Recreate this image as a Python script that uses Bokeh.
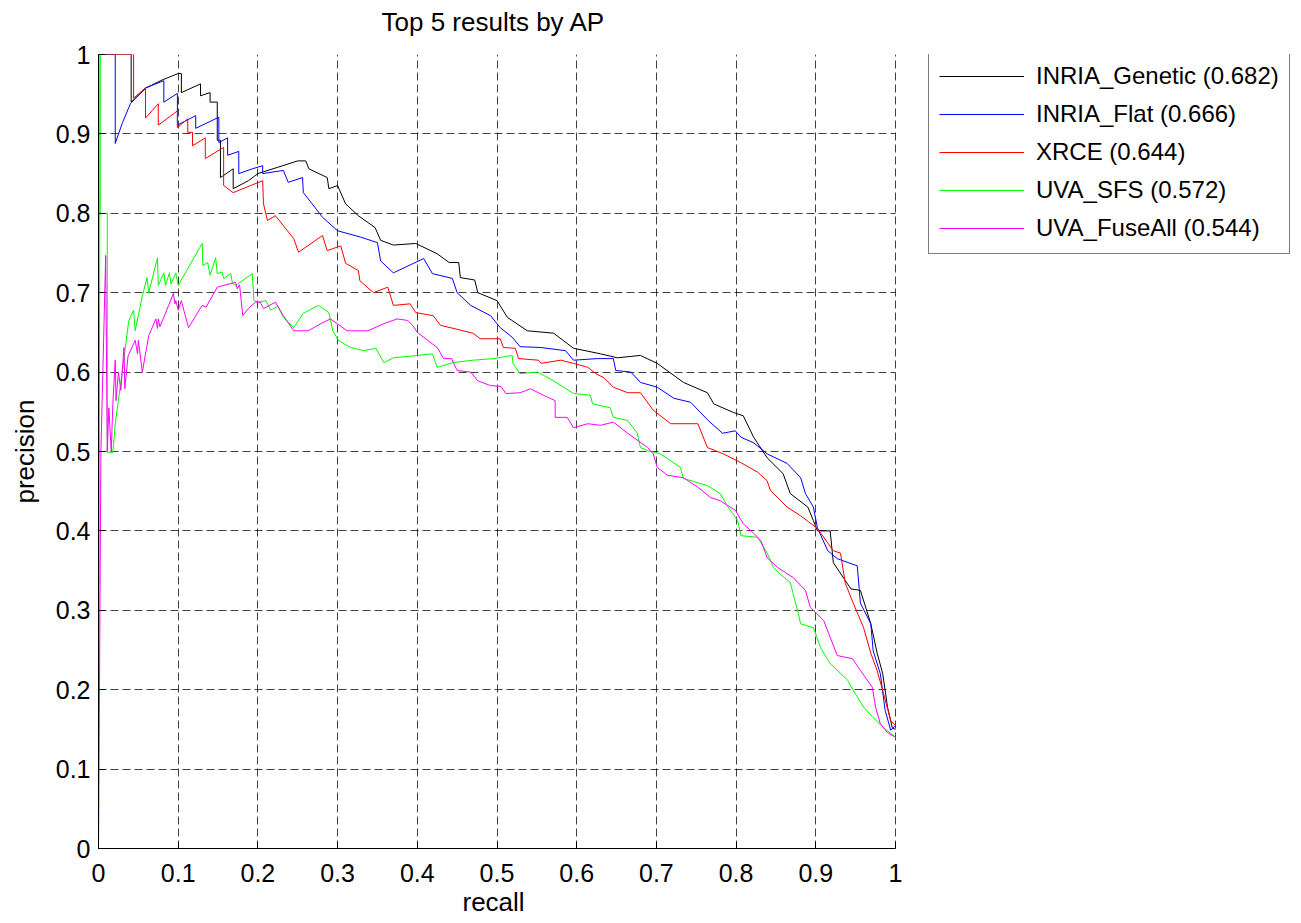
from bokeh.plotting import figure
from bokeh.models import Legend, LegendItem, FixedTicker, Range1d, Title
from bokeh.embed import file_html
from bokeh.resources import INLINE

# ---------------- data ----------------
tick_values = [0, 0.1, 0.2, 0.3, 0.4, 0.5, 0.6, 0.7, 0.8, 0.9, 1.0]
tick_labels = ["0", "0.1", "0.2", "0.3", "0.4", "0.5", "0.6", "0.7", "0.8", "0.9", "1"]

series_names = ["INRIA_Genetic (0.682)", "INRIA_Flat (0.666)", "XRCE (0.644)",
                "UVA_SFS (0.572)", "UVA_FuseAll (0.544)"]
series_colors = ["#000000", "#0000FF", "#FF0000", "#00FF00", "#FF00FF"]

genetic_recall = [0, 0, 0.041, 0.041, 0.06, 0.08, 0.1, 0.104, 0.104, 0.128, 0.128, 0.14, 0.14, 0.149,
                  0.149, 0.153, 0.153, 0.169, 0.169, 0.188, 0.2, 0.225, 0.25, 0.26, 0.264, 0.287, 0.289,
                  0.3, 0.31, 0.326, 0.347, 0.354, 0.37, 0.398, 0.425, 0.44, 0.452, 0.454, 0.472, 0.476,
                  0.5, 0.513, 0.538, 0.571, 0.596, 0.63, 0.651, 0.68, 0.701, 0.734, 0.764, 0.772, 0.797,
                  0.809, 0.822, 0.839, 0.859, 0.868, 0.89, 0.897, 0.902, 0.918, 0.922, 0.944, 0.956,
                  0.969, 0.977, 0.984, 0.99, 0.996, 1.0]
genetic_precision = [0, 1, 1, 0.94, 0.958, 0.968, 0.976, 0.976, 0.952, 0.963, 0.948, 0.952, 0.94, 0.94,
                     0.892, 0.892, 0.845, 0.856, 0.831, 0.841, 0.85, 0.858, 0.866, 0.866, 0.856, 0.845,
                     0.831, 0.835, 0.812, 0.797, 0.782, 0.766, 0.76, 0.762, 0.749, 0.738, 0.738, 0.719,
                     0.716, 0.70, 0.69, 0.669, 0.652, 0.649, 0.63, 0.623, 0.618, 0.621, 0.611, 0.587,
                     0.574, 0.56, 0.549, 0.545, 0.518, 0.492, 0.472, 0.447, 0.43, 0.413, 0.40, 0.40,
                     0.36, 0.327, 0.325, 0.283, 0.246, 0.22, 0.178, 0.152, 0.15]

flat_recall = [0, 0, 0.021, 0.021, 0.03, 0.04, 0.059, 0.082, 0.082, 0.099, 0.099, 0.122, 0.122, 0.151,
               0.151, 0.162, 0.162, 0.176, 0.176, 0.193, 0.206, 0.206, 0.232, 0.238, 0.256, 0.257, 0.268,
               0.281, 0.3, 0.329, 0.35, 0.354, 0.37, 0.408, 0.419, 0.444, 0.45, 0.467, 0.492, 0.504,
               0.519, 0.529, 0.555, 0.586, 0.596, 0.626, 0.646, 0.649, 0.668, 0.68, 0.701, 0.722, 0.743,
               0.765, 0.783, 0.799, 0.806, 0.822, 0.839, 0.864, 0.881, 0.887, 0.897, 0.902, 0.915,
               0.927, 0.952, 0.956, 0.969, 0.972, 0.981, 0.987, 0.994, 1.0]
flat_precision = [0, 1, 1, 0.888, 0.914, 0.938, 0.958, 0.967, 0.94, 0.951, 0.911, 0.923, 0.907, 0.921,
                  0.889, 0.895, 0.873, 0.878, 0.85, 0.856, 0.86, 0.85, 0.854, 0.839, 0.845, 0.826, 0.812,
                  0.795, 0.778, 0.77, 0.763, 0.74, 0.725, 0.743, 0.724, 0.718, 0.70, 0.684, 0.671, 0.656,
                  0.644, 0.632, 0.631, 0.627, 0.615, 0.617, 0.617, 0.602, 0.60, 0.587, 0.581, 0.567,
                  0.562, 0.539, 0.523, 0.526, 0.518, 0.511, 0.497, 0.485, 0.467, 0.447, 0.43, 0.404,
                  0.375, 0.365, 0.356, 0.309, 0.283, 0.249, 0.22, 0.174, 0.149, 0.155]

xrce_recall = [0, 0, 0.044, 0.044, 0.059, 0.059, 0.075, 0.075, 0.099, 0.099, 0.112, 0.112, 0.118, 0.118,
               0.134, 0.134, 0.157, 0.157, 0.169, 0.191, 0.206, 0.207, 0.212, 0.222, 0.245, 0.251, 0.281,
               0.287, 0.304, 0.31, 0.326, 0.328, 0.345, 0.363, 0.37, 0.391, 0.398, 0.42, 0.429, 0.47,
               0.479, 0.504, 0.508, 0.523, 0.527, 0.552, 0.555, 0.58, 0.596, 0.614, 0.624, 0.634, 0.646,
               0.664, 0.68, 0.696, 0.718, 0.752, 0.764, 0.784, 0.806, 0.827, 0.839, 0.843, 0.864, 0.881,
               0.902, 0.922, 0.931, 0.937, 0.947, 0.96, 0.969, 0.977, 0.985, 0.994, 1.0]
xrce_precision = [0, 1, 1, 0.945, 0.958, 0.92, 0.938, 0.911, 0.929, 0.908, 0.919, 0.902, 0.902, 0.885,
                  0.895, 0.869, 0.883, 0.835, 0.826, 0.835, 0.841, 0.812, 0.791, 0.797, 0.768, 0.751,
                  0.772, 0.753, 0.759, 0.737, 0.728, 0.715, 0.70, 0.707, 0.684, 0.686, 0.675, 0.671,
                  0.659, 0.649, 0.642, 0.642, 0.631, 0.63, 0.617, 0.615, 0.611, 0.615, 0.611, 0.606,
                  0.598, 0.593, 0.581, 0.574, 0.574, 0.552, 0.535, 0.535, 0.505, 0.497, 0.486, 0.474,
                  0.463, 0.451, 0.43, 0.419, 0.403, 0.375, 0.372, 0.334, 0.309, 0.278, 0.246, 0.224,
                  0.195, 0.161, 0.155]

sfs_recall = [0, 0.002, 0.002, 0.011, 0.011, 0.018, 0.021, 0.03, 0.038, 0.044, 0.046, 0.055, 0.061, 0.063,
              0.074, 0.075, 0.082, 0.084, 0.089, 0.091, 0.097, 0.1, 0.13, 0.131, 0.137, 0.14, 0.147, 0.149,
              0.155, 0.157, 0.166, 0.168, 0.172, 0.193, 0.195, 0.2, 0.21, 0.216, 0.225, 0.232, 0.245,
              0.257, 0.276, 0.289, 0.294, 0.301, 0.316, 0.333, 0.348, 0.358, 0.37, 0.4, 0.419, 0.425,
              0.445, 0.47, 0.496, 0.519, 0.52, 0.529, 0.551, 0.571, 0.596, 0.617, 0.62, 0.642, 0.646,
              0.664, 0.676, 0.68, 0.689, 0.705, 0.73, 0.734, 0.764, 0.78, 0.79, 0.802, 0.806, 0.827,
              0.839, 0.847, 0.856, 0.868, 0.878, 0.881, 0.897, 0.906, 0.918, 0.94, 0.947, 0.96, 0.972,
              0.985, 0.994, 1.0]
sfs_precision = [0, 1, 0.8, 0.8, 0.499, 0.499, 0.535, 0.602, 0.665, 0.678, 0.652, 0.696, 0.719, 0.70,
                 0.744, 0.709, 0.725, 0.709, 0.725, 0.711, 0.725, 0.709, 0.762, 0.734, 0.738, 0.722,
                 0.744, 0.724, 0.726, 0.718, 0.724, 0.712, 0.709, 0.724, 0.69, 0.688, 0.69, 0.678, 0.683,
                 0.669, 0.656, 0.674, 0.684, 0.675, 0.652, 0.64, 0.631, 0.627, 0.63, 0.612, 0.618, 0.621,
                 0.623, 0.606, 0.612, 0.615, 0.617, 0.621, 0.611, 0.598, 0.60, 0.589, 0.573, 0.571, 0.56,
                 0.555, 0.543, 0.539, 0.523, 0.505, 0.501, 0.497, 0.48, 0.466, 0.457, 0.447, 0.43, 0.413,
                 0.394, 0.392, 0.372, 0.354, 0.345, 0.335, 0.296, 0.283, 0.278, 0.253, 0.233, 0.212,
                 0.199, 0.178, 0.165, 0.152, 0.145, 0.14]

fuse_recall = [0, 0.003, 0.009, 0.011, 0.013, 0.016, 0.018, 0.021, 0.022, 0.025, 0.028, 0.032, 0.033,
               0.037, 0.046, 0.049, 0.05, 0.055, 0.063, 0.072, 0.074, 0.075, 0.077, 0.088, 0.094, 0.096,
               0.097, 0.1, 0.104, 0.107, 0.113, 0.13, 0.135, 0.149, 0.16, 0.172, 0.174, 0.177, 0.181,
               0.188, 0.197, 0.203, 0.207, 0.222, 0.232, 0.245, 0.263, 0.279, 0.291, 0.312, 0.338, 0.358,
               0.375, 0.388, 0.394, 0.4, 0.413, 0.425, 0.433, 0.443, 0.45, 0.467, 0.476, 0.492, 0.505,
               0.511, 0.529, 0.542, 0.558, 0.573, 0.573, 0.588, 0.596, 0.614, 0.63, 0.646, 0.664, 0.689,
               0.696, 0.701, 0.714, 0.734, 0.752, 0.768, 0.78, 0.799, 0.809, 0.822, 0.831, 0.839, 0.852,
               0.872, 0.887, 0.893, 0.91, 0.918, 0.927, 0.946, 0.959, 0.971, 0.975, 0.981, 0.99, 1.0]
fuse_precision = [0, 0.5, 0.747, 0.5, 0.555, 0.5, 0.56, 0.615, 0.564, 0.60, 0.577, 0.631, 0.579, 0.62,
                  0.64, 0.623, 0.64, 0.60, 0.646, 0.667, 0.655, 0.667, 0.657, 0.684, 0.699, 0.686, 0.69,
                  0.678, 0.69, 0.678, 0.656, 0.684, 0.682, 0.707, 0.71, 0.713, 0.705, 0.71, 0.671, 0.68,
                  0.688, 0.688, 0.68, 0.688, 0.671, 0.652, 0.652, 0.661, 0.667, 0.652, 0.652, 0.661,
                  0.667, 0.665, 0.659, 0.65, 0.64, 0.631, 0.617, 0.617, 0.602, 0.60, 0.589, 0.583, 0.582,
                  0.573, 0.574, 0.579, 0.571, 0.564, 0.543, 0.543, 0.53, 0.535, 0.533, 0.537, 0.523,
                  0.505, 0.497, 0.48, 0.47, 0.467, 0.455, 0.442, 0.438, 0.426, 0.409, 0.397, 0.388,
                  0.366, 0.354, 0.341, 0.325, 0.304, 0.287, 0.266, 0.243, 0.239, 0.22, 0.203, 0.178,
                  0.157, 0.146, 0.14]

all_recall = [genetic_recall, flat_recall, xrce_recall, sfs_recall, fuse_recall]
all_precision = [genetic_precision, flat_precision, xrce_precision, sfs_precision, fuse_precision]

# ---------------- figure ----------------
FONT = "Liberation Sans"
W, H = 1301, 923
LEFT, RIGHT_AT_ONE, TOP, BOTTOM = 98, 895, 54, 75
x_end = (W - LEFT) / (RIGHT_AT_ONE - LEFT)   # frame extends right so the legend can live inside it

p = figure(width=W, height=H, output_backend="svg", toolbar_location=None,
           x_range=Range1d(0, x_end), y_range=Range1d(0, 1),
           min_border_left=LEFT, min_border_right=0, min_border_top=TOP, min_border_bottom=BOTTOM,
           title="Top 5 results by AP")
p.background_fill_color = "white"
p.border_fill_color = "white"
p.outline_line_color = None

p.title.align = "left"
p.title.offset = 283
p.title.text_font = FONT
p.title.text_font_size = "26px"
p.title.text_font_style = "normal"
p.title.text_color = "black"
p.title.standoff = 8

# small empty spacer between the title and the frame
spacer = Title(text=" ", text_font_size="2px", standoff=10)
p.add_layout(spacer, "above")

for ax in (p.xaxis[0], p.yaxis[0]):
    ax.ticker = FixedTicker(ticks=tick_values)
    ax.major_label_overrides = {v: l for v, l in zip(tick_values, tick_labels)}
    ax.major_label_text_font = FONT
    ax.major_label_text_font_size = "25px"
    ax.major_label_text_color = "black"
    ax.axis_label_text_font = FONT
    ax.axis_label_text_font_size = "26px"
    ax.axis_label_text_font_style = "normal"
    ax.axis_label_text_color = "black"
    ax.axis_line_color = "black"
    ax.axis_line_width = 1
    ax.major_tick_line_color = "black"
    ax.major_tick_in = 7
    ax.major_tick_out = 0
    ax.minor_tick_line_color = None
    ax.bounds = (0, 1)

p.yaxis[0].axis_label = "precision"
p.xaxis[0].major_label_standoff = 15
p.yaxis[0].major_label_standoff = 8
p.yaxis[0].axis_label_standoff = 13
p.yaxis[0].major_label_orientation = "horizontal"

# x axis label centred under the 0..1 part of the axis
xlabel = Title(text="recall", align="left", offset=364, vertical_align="top",
               text_font=FONT, text_font_size="26px", text_font_style="normal",
               text_color="black", standoff=4)
p.add_layout(xlabel, "below")

for g in (p.xgrid[0], p.ygrid[0]):
    g.ticker = FixedTicker(ticks=tick_values)
    g.grid_line_color = "#000000"
    g.grid_line_alpha = 0.75
    g.grid_line_dash = "8 4"
    g.grid_line_width = 1
    g.bounds = (0, 1)
    g.cross_bounds = (0, 1)

items = []
for name, color, rx, py in zip(series_names, series_colors, all_recall, all_precision):
    r = p.line(rx, py, line_color=color, line_width=1)
    items.append(LegendItem(label=name, renderers=[r]))

legend = Legend(items=items, location=(830, 594))
legend.label_text_font = FONT
legend.label_text_font_size = "24px"
legend.label_text_color = "black"
legend.label_height = 30
legend.glyph_height = 30
legend.glyph_width = 85
legend.label_standoff = 12
legend.spacing = 8
legend.padding = 10
legend.margin = 0
legend.border_line_color = "black"
legend.border_line_width = 1
legend.background_fill_color = "white"
legend.background_fill_alpha = 1
p.add_layout(legend, "center")

open("out.html", "w").write(file_html(p, INLINE))
